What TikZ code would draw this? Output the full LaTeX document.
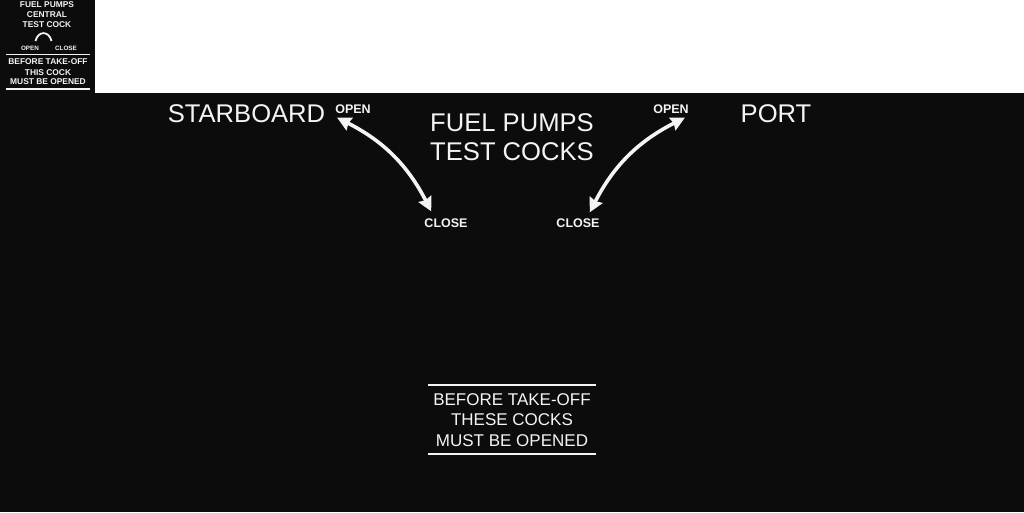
\documentclass[tikz,border=0pt]{standalone}
\usepackage{fontspec}
\setmainfont{Liberation Sans}
\usepackage{xcolor}
\usepackage{tikz}
\usetikzlibrary{arrows.meta}
\definecolor{panel}{HTML}{0C0C0C}
\definecolor{ink}{HTML}{F4F4F4}

\begin{document}
\begin{tikzpicture}[x=1pt, y=-1pt,
            every node/.style={inner sep=0pt, text=ink},
            big/.style={font=\fontsize{25.6}{30}\selectfont},
            mid/.style={font=\fontsize{17}{20}\selectfont},
            tag/.style={font=\bfseries\fontsize{12.5}{15}\selectfont},
            tiny/.style={font=\bfseries\fontsize{8.4}{10}\selectfont},
            micro/.style={font=\bfseries\fontsize{6.3}{8}\selectfont},
            rule/.style={draw=ink, line width=#1},
            turn/.style={draw=ink, line width=3.6pt, {Stealth[length=14pt, width=14pt, inset=1.5pt]}-{Stealth[length=14pt, width=14pt, inset=1.5pt]}}]
            \fill [panel] (0, 0) rectangle (1024, 512);
            \fill [white] (95, 0) rectangle (1024, 93);
            % small placard
            \node (p1) at (47, 5) [tiny] {FUEL PUMPS};
            \node (p2) at (47, 15) [tiny] {CENTRAL};
            \node (p3) at (47, 25) [tiny] {TEST COCK};
            \draw [rule=1.8pt] (35.5, 41) .. controls (38, 30.5) and (49, 30.5) .. (51.5, 41);
            \node (pOpen) at (30, 48) [micro] {OPEN};
            \node (pClose) at (66, 48) [micro] {CLOSE};
            \draw [rule=1.5pt] (6, 54.5) -- (90, 54.5);
            \node (p4) at (48, 62) [tiny] {BEFORE TAKE-OFF};
            \node (p5) at (48, 72.5) [tiny] {THIS COCK};
            \node (p6) at (48, 82) [tiny] {MUST BE OPENED};
            \draw [rule=1.5pt] (6, 89) -- (90, 89);
            % main panel
            \node (starboard) at (246.5, 114) [big] {STARBOARD};
            \node (port) at (776, 114) [big] {PORT};
            \node (title1) at (512, 123) [big] {FUEL PUMPS};
            \node (title2) at (512, 152) [big] {TEST COCKS};
            \node (openS) at (353, 109) [tag] {OPEN};
            \node (closeS) at (446, 223) [tag] {CLOSE};
            \node (openP) at (671, 109) [tag] {OPEN};
            \node (closeP) at (578, 223) [tag] {CLOSE};
            \draw [turn] ([xshift=2pt, yshift=-4pt]openS.south west) to[bend left=18] ([xshift=7pt, yshift=7pt]closeS.north west);
            \draw [turn] ([xshift=-4pt, yshift=-4pt]openP.south east) to[bend right=18] ([xshift=-10pt, yshift=6pt]closeP.north east);
            % warning box
            \draw [rule=2.5pt] (428, 385) -- (596, 385);
            \node (note1) at (512, 400) [mid] {BEFORE TAKE-OFF};
            \node (note2) at (512, 420) [mid] {THESE COCKS};
            \node (note3) at (512, 440.5) [mid] {MUST BE OPENED};
            \draw [rule=2.5pt] (428, 454) -- (596, 454);
        \end{tikzpicture}
\end{document}
